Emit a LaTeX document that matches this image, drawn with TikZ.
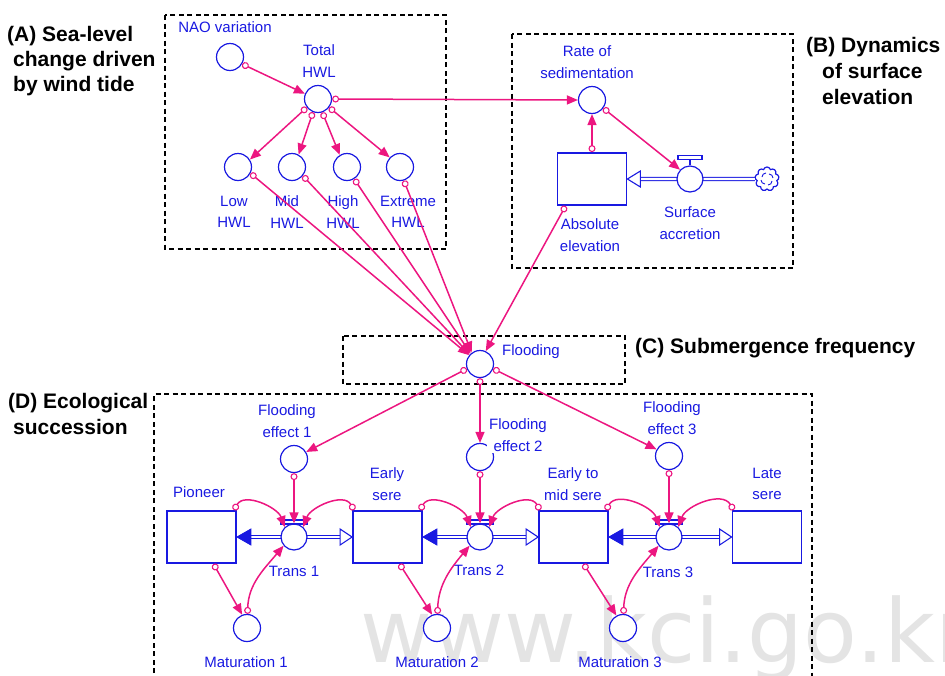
\documentclass[tikz,border=0pt]{standalone}
\usepackage{fontspec}
\setmainfont{Liberation Sans}
\newfontfamily\wmfont{DejaVu Sans}
\usetikzlibrary{arrows.meta,calc,shapes.symbols}
\definecolor{sdblue}{RGB}{25,25,225}
\definecolor{sdpink}{RGB}{236,22,128}
\definecolor{wmgray}{RGB}{228,228,228}
\begin{document}
\begin{tikzpicture}[x=1pt,y=-1pt,
  aux/.style={circle,draw=sdblue,fill=white,line width=1.2pt,minimum size=27pt,inner sep=0pt},
  valve/.style={circle,draw=sdblue,fill=white,line width=1.2pt,minimum size=26pt,inner sep=0pt},
  stock/.style={rectangle,draw=sdblue,fill=white,line width=1.8pt,minimum width=69pt,minimum height=52pt,inner sep=0pt},
  lbl/.style={text=sdblue,font=\fontsize{15}{21.5}\selectfont,align=center,inner sep=0pt},
  grouptitle/.style={font=\fontsize{21}{25}\selectfont\bfseries,anchor=base west,inner sep=0pt},
  link/.style={draw=sdpink,line width=1.5pt,{Circle[open,length=7pt,width=7pt,line width=1.1pt]}-{Triangle[length=11pt,width=9pt]}},
  groupbox/.style={draw=black,dash pattern=on 5pt off 3.5pt,line width=1.1pt},
  pipe/.style={draw=sdblue,line width=1.1pt,double=white,double distance=2.2pt},
  headfill/.style={fill=sdblue,draw=sdblue,line width=0.8pt},
  headopen/.style={fill=white,draw=sdblue,line width=1.1pt},
  valvebar/.style={draw=sdblue,fill=white,line width=1.1pt},
]
\useasboundingbox (0,0) rectangle (945,675);
\clip (0,0) rectangle (945,675);

% watermark
\node[text=wmgray,font=\wmfont\fontsize{88}{88}\selectfont,anchor=base west,inner sep=0pt] (wm) at (360,662) {www.kci.go.kr};

% group boxes
\draw[groupbox] (165,15) rectangle (446,249);
\draw[groupbox] (512,34) rectangle (793,268);
\draw[groupbox] (343,336) rectangle (625,384);
\draw[groupbox] (154,690) -- (154,394) -- (812,394) -- (812,690);

% group titles
\node[grouptitle] (ta1) at (7,41) {(A) Sea-level};
\node[grouptitle] (ta2) at (13,66) {change driven};
\node[grouptitle] (ta3) at (13,91) {by wind tide};
\node[grouptitle] (tb1) at (806,52) {(B) Dynamics};
\node[grouptitle] (tb2) at (822,78) {of surface};
\node[grouptitle] (tb3) at (822,104) {elevation};
\node[grouptitle] (tc1) at (635,353) {(C) Submergence frequency};
\node[grouptitle] (td1) at (8,408) {(D) Ecological};
\node[grouptitle] (td2) at (13,434) {succession};

% ---------- (A) ----------
\node[aux] (nao) at (230,57) {};
\node[aux] (tot) at (318,99) {};
\node[aux] (low) at (238,167) {};
\node[aux] (mid) at (292,167) {};
\node[aux] (high) at (347,167) {};
\node[aux] (ext) at (400,167) {};
\node[lbl] (lnao) at (225,27) {NAO variation};
\node[lbl] (ltot) at (319,61) {Total\\HWL};
\node[lbl] (llow) at (234,212) {Low\\HWL};
\node[lbl] (lmid) at (287,212) {Mid\\HWL};
\node[lbl] (lhigh) at (343,212) {High\\HWL};
\node[lbl] (lext) at (408,212) {Extreme\\HWL};

% ---------- (B) ----------
\node[aux] (rate) at (592,100) {};
\node[lbl] (lrate) at (587,62) {Rate of\\sedimentation};
\node[cloud,cloud puffs=9,aspect=1,draw=sdblue,line width=1.2pt,fill=white,minimum size=24pt,inner sep=0pt] (cloud) at (767,179) {};
\draw[sdblue,line width=0.9pt] ($(cloud)+(-5,-2)$) arc (180:270:4);
\draw[sdblue,line width=0.9pt] ($(cloud)+(2,-5)$) arc (270:360:4);
\draw[sdblue,line width=0.9pt] ($(cloud)+(5,2)$) arc (0:90:4);
\draw[sdblue,line width=0.9pt] ($(cloud)+(-2,5)$) arc (90:180:4);
\node[stock] (abs) at (592,179) {};
\draw[pipe] (cloud.west) -- ([xshift=12pt]abs.east);
\draw[headopen] (abs.east) -- ++(13,-8) -- ++(0,16) -- cycle;
\node[valve] (sacc) at (690,179) {};
\draw[sdblue,line width=1.2pt] (sacc.north) -- ++(0,-7);
\draw[valvebar] ($(sacc.north)+(-12,-10)$) rectangle ($(sacc.north)+(12,-6)$);
\node[lbl] (labs) at (590,235) {Absolute\\elevation};
\node[lbl] (lsacc) at (690,223) {Surface\\accretion};

% ---------- (C) ----------
\node[aux] (flood) at (480,364) {};
\node[lbl,anchor=west] (lflood) at (502,352) {Flooding};

% ---------- (D) ----------
\node[aux] (fe1) at (294,459) {};
\node[aux] (fe2) at (480,457) {};
\node[aux] (fe3) at (669,456) {};
\node[lbl] (lfe1) at (287,421) {Flooding\\effect 1};
\node[lbl,fill=white,inner sep=2pt] (lfe2) at (518,435) {Flooding\\effect 2};
\node[lbl] (lfe3) at (672,418) {Flooding\\effect 3};

\node[stock] (pio) at (201.5,537) {};
\node[stock] (early) at (387.5,537) {};
\node[stock] (etm) at (573.5,537) {};
\node[stock] (late) at (767,537) {};
\node[lbl] (lpio) at (199,492) {Pioneer};
\node[lbl] (learly) at (387,484) {Early\\sere};
\node[lbl] (letm) at (573,484) {Early to\\mid sere};
\node[lbl] (llate) at (767,484) {Late\\sere};

% pipes
\draw[pipe] ([xshift=13pt]pio.east) -- ([xshift=-11pt]early.west);
\draw[pipe] ([xshift=13pt]early.east) -- ([xshift=-11pt]etm.west);
\draw[pipe] ([xshift=13pt]etm.east) -- ([xshift=-11pt]late.west);
\draw[headfill] (pio.east) -- ++(14,-8) -- ++(0,16) -- cycle;
\draw[headopen] (early.west) -- ++(-12,-8) -- ++(0,16) -- cycle;
\draw[headfill] (early.east) -- ++(14,-8) -- ++(0,16) -- cycle;
\draw[headopen] (etm.west) -- ++(-12,-8) -- ++(0,16) -- cycle;
\draw[headfill] (etm.east) -- ++(14,-8) -- ++(0,16) -- cycle;
\draw[headopen] (late.west) -- ++(-12,-8) -- ++(0,16) -- cycle;

\node[valve] (t1) at (294,537) {};
\node[valve] (t2) at (480,537) {};
\node[valve] (t3) at (669,537) {};
\draw[valvebar] ($(t1)+(-13,-17)$) rectangle ($(t1)+(13,-13)$);
\draw[valvebar] ($(t2)+(-13,-17)$) rectangle ($(t2)+(13,-13)$);
\draw[valvebar] ($(t3)+(-13,-17)$) rectangle ($(t3)+(13,-13)$);
\node[lbl] (lt1) at (294,571) {Trans 1};
\node[lbl] (lt2) at (479,570) {Trans 2};
\node[lbl] (lt3) at (668,572) {Trans 3};

\node[aux] (mat1) at (247,628) {};
\node[aux] (mat2) at (437,628) {};
\node[aux] (mat3) at (623,628) {};
\node[lbl] (lmat1) at (246,662) {Maturation 1};
\node[lbl] (lmat2) at (437,662) {Maturation 2};
\node[lbl] (lmat3) at (620,662) {Maturation 3};

% ---------- links ----------
\draw[link] (nao.-30) -- (tot.158);
\draw[link] (tot.-143) -- (low.32);
\draw[link] (tot.-111) -- (mid.62);
\draw[link] (tot.-72) -- (high.121);
\draw[link] (tot.-37) -- (ext.137);
\draw[link] (tot.0) -- (rate.180);
\draw[link] (abs.north) -- (rate.south);
\draw[link] (rate.-36) -- (sacc.137);

\draw[link] (low.-27) -- (flood.141);
\draw[link] (mid.-39) -- (flood.137);
\draw[link] (high.-59) -- (flood.132);
\draw[link] (ext.-74) -- (flood.126);
\draw[link] ([xshift=9pt]abs.south west) -- (flood.66);

\draw[link] (flood.-160) -- (fe1.30);
\draw[link] (flood.south) -- (fe2.north);
\draw[link] (flood.-20) -- (fe3.152);

\draw[link] (fe1.south) -- (t1.north);
\draw[link] (fe2.south) -- (t2.north);
\draw[link] (fe3.south) -- (t3.north);

\draw[link] ([xshift=-3pt]pio.north east) to[out=60,in=110] (t1.133);
\draw[link] ([xshift=2pt]early.north west) to[out=120,in=70] (t1.47);
\draw[link] ([xshift=-3pt]early.north east) to[out=60,in=110] (t2.133);
\draw[link] ([xshift=2pt]etm.north west) to[out=120,in=70] (t2.47);
\draw[link] ([xshift=-3pt]etm.north east) to[out=60,in=110] (t3.133);
\draw[link] ([xshift=2pt]late.north west) to[out=120,in=70] (t3.47);

\draw[link] ([xshift=12pt]pio.south) -- (mat1.110);
\draw[link] ([xshift=12pt]early.south) -- (mat2.110);
\draw[link] ([xshift=10pt]etm.south) -- (mat3.118);
\draw[link] (mat1.88) to[out=88,in=-130] (t1.-140);
\draw[link] (mat2.88) to[out=88,in=-130] (t2.-140);
\draw[link] (mat3.88) to[out=88,in=-130] (t3.-140);
\end{tikzpicture}
\end{document}
